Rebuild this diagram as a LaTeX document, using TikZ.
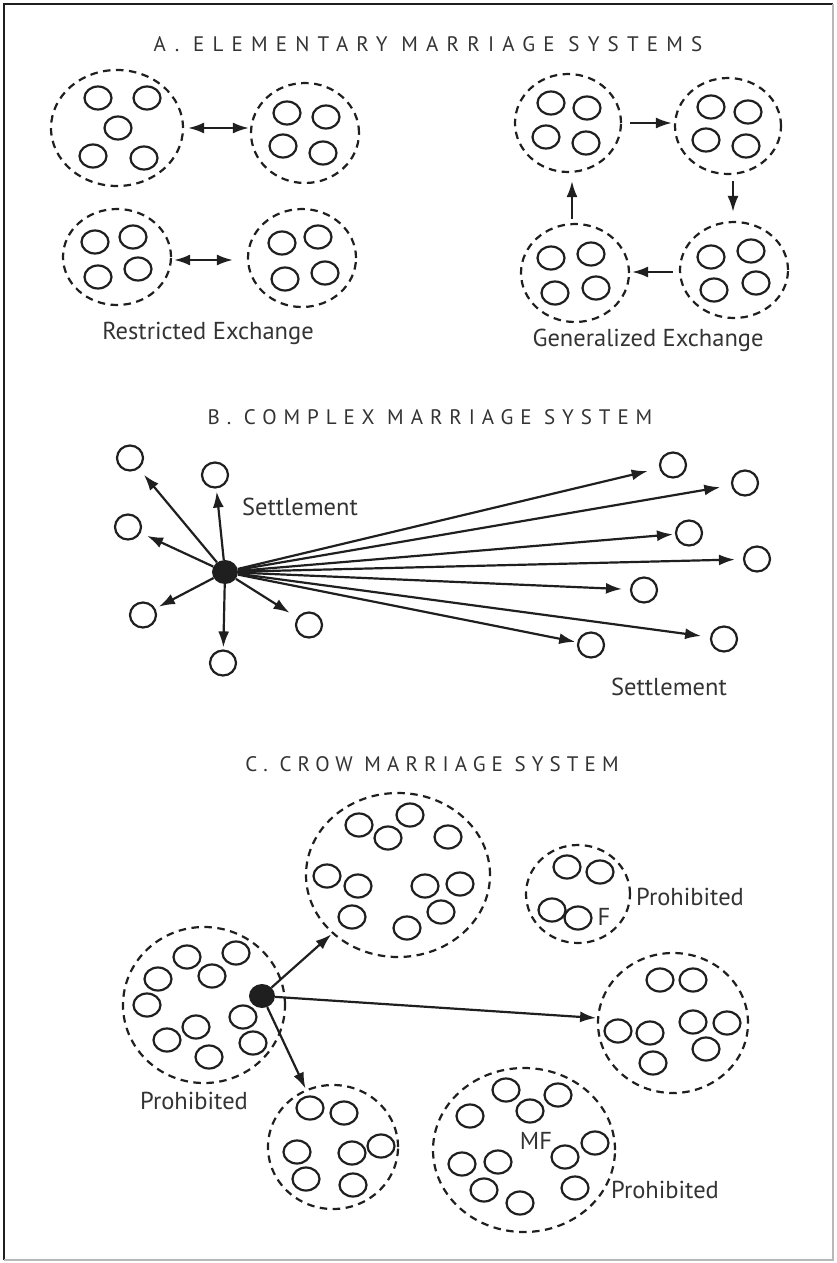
\documentclass[tikz,border=0pt]{standalone}
\usepackage{fontspec}
\setmainfont{PT Sans}
\newfontfamily\capsfont{PT Sans}
\usetikzlibrary{shapes.geometric,arrows.meta,positioning}
\definecolor{ink}{gray}{0.12}
\definecolor{txt}{gray}{0.2}
\definecolor{rim}{gray}{0.72}

\begin{document}
\begin{tikzpicture}[x=1pt,y=-1pt,
	grp/.style={ellipse,draw=ink,line width=2.2pt,dash pattern=on 7.5pt off 5.5pt,inner sep=0pt},
	fam/.style={ellipse,draw=ink,line width=2.2pt,minimum width=27pt,minimum height=23pt,inner sep=0pt},
	stl/.style={ellipse,draw=ink,line width=2.2pt,minimum width=26pt,minimum height=25pt,inner sep=0pt},
	hub/.style={ellipse,fill=ink,minimum width=26pt,minimum height=24pt,inner sep=0pt},
	arr/.style={-{Latex[length=16pt,width=11pt]},draw=ink,line width=2.2pt},
	dbl/.style={{Latex[length=16pt,width=11pt]}-{Latex[length=16pt,width=11pt]},draw=ink,line width=2.2pt},
	head/.style={text=txt,inner sep=0pt},
	lbl/.style={font=\fontsize{24.5}{24.5}\selectfont,text=txt,inner sep=0pt}]
	
	\useasboundingbox (0,0) rectangle (836,1263);
	% Rahmen
	\draw[ink,line width=1.5pt] (4,1260) -- (4,4) -- (833,4);
	\draw[rim,line width=1.5pt] (833,4) -- (833,1260) -- (4,1260);
	
	% A: restricted exchange
	\node[head,font=\capsfont\addfontfeature{LetterSpace=39}\fontsize{21}{21}\selectfont] (ta) at (428,44) {A. ELEMENTARY MARRIAGE SYSTEMS};
	\node[grp,minimum width=132pt,minimum height=116pt] (ra) at (117,128) {};
	\node[grp,minimum width=108pt,minimum height=100pt] (rb) at (305,133) {};
	\node[grp,minimum width=108pt,minimum height=96pt] (rc) at (117,257) {};
	\node[grp,minimum width=108pt,minimum height=98pt] (rd) at (302,258) {};
	\foreach \x/\y [count=\i] in {98/98,147/98,118/128,93/156,144/158,287/113,326/117,283/146,323/153,
		95/242,133/237,98/277,138/269,282/243,318/237,285/279,325/273}
		\node[fam] (rf\i) at (\x,\y) {};
	\draw[dbl,shorten <=4pt,shorten >=1pt] (ra.east) -- (ra.east -| rb.west);
	\draw[dbl,shorten <=2pt,shorten >=14pt] ([yshift=-3pt]rc.east) -- ([yshift=-3pt]rc.east -| rd.west);
	\node[lbl] (rlab) at (208,333) {Restricted Exchange};
	
	% A: generalized exchange
	\node[grp,minimum width=106pt,minimum height=98pt] (ga) at (568,123) {};
	\node[grp,minimum width=106pt,minimum height=96pt] (gb) at (728,126) {};
	\node[grp,minimum width=108pt,minimum height=96pt] (gc) at (734,270) {};
	\node[grp,minimum width=108pt,minimum height=98pt] (gd) at (575,273) {};
	\foreach \x/\y [count=\i] in {551/103,587/108,546/137,586/143,711/107,748/112,706/140,746/146,
		711/257,751/251,714/290,756/283,551/258,591/254,555/293,596/288}
		\node[fam] (gf\i) at (\x,\y) {};
	\draw[arr,shorten <=8pt,shorten >=2pt] (ga.east) -- (ga.east -| gb.west);
	\draw[arr,shorten <=6pt,shorten >=9pt] ([xshift=5pt]gb.south) -- ([xshift=5pt]gb.south |- gc.north);
	\draw[arr,shorten <=6pt,shorten >=2pt] ([yshift=-2pt]gc.west) -- ([yshift=-2pt]gc.west -| gd.east);
	\draw[arr,shorten <=4pt,shorten >=8pt] ([xshift=-3pt]gd.north) -- ([xshift=-3pt]gd.north |- ga.south);
	\node[lbl] (glab) at (648,340) {Generalized Exchange};
	
	% B: complex system
	\node[head,font=\capsfont\addfontfeature{LetterSpace=33}\fontsize{21}{21}\selectfont] (tb) at (430,417) {B. COMPLEX MARRIAGE SYSTEM};
	\node[hub] (bh) at (225,572) {};
	\foreach \x/\y/\s [count=\i] in {130/458/8,215/475/3,128/527/7,143/615/4,223/663/2,309/625/9,
		673/465/12,745/483/11,689/533/2,757/559/8,644/590/8,724/639/9,591/645/2}
	{
		\node[stl] (s\i) at (\x,\y) {};
		\draw[arr,shorten >=\s pt] (bh) -- (s\i);
	}
	\node[lbl] (sla) at (300,507) {Settlement};
	\node[lbl] (slb) at (669,687) {Settlement};
	
	% C: Crow system
	\node[head,font=\capsfont\addfontfeature{LetterSpace=29}\fontsize{21}{21}\selectfont] (tc) at (432,764) {C. CROW MARRIAGE SYSTEM};
	\node[grp,minimum width=162pt,minimum height=156pt] (ca) at (204,1005) {};
	\node[grp,minimum width=184pt,minimum height=164pt] (cb) at (398,875) {};
	\node[grp,minimum width=104pt,minimum height=98pt] (cf) at (578,894) {};
	\node[grp,minimum width=150pt,minimum height=140pt] (cc) at (673,1023) {};
	\node[grp,minimum width=130pt,minimum height=124pt] (cd) at (333,1147) {};
	\node[grp,minimum width=182pt,minimum height=164pt] (ce) at (524,1150) {};
	\foreach \x/\y [count=\i] in {187/957,236/953,158/979,212/976,147/1005,243/1017,196/1027,167/1040,253/1043,209/1057,
		359/825,410/815,388/838,448/837,327/876,358/886,425/886,460/884,352/917,441/912,407/928,
		567/867,600/872,552/910,578/918,
		660/980,693/980,693/1022,727/1023,618/1031,650/1033,706/1049,653/1063,
		310/1108,344/1113,297/1152,352/1153,381/1146,306/1179,353/1185,
		506/1090,558/1095,530/1111,470/1116,595/1143,565/1157,462/1164,498/1162,484/1190,575/1188,520/1203}
		\node[fam] (cf\i) at (\x,\y) {};
	\node[hub] (ch) at (262,996) {};
	\draw[arr,shorten >=1pt] (ch) -- (cb);
	\draw[arr,shorten >=1pt] (ch) -- (cc);
	\draw[arr,shorten >=1pt] (ch) -- (cd);
	\node[lbl] (fl) at (604,917) {F};
	\node[lbl] (mfl) at (536,1141) {MF};
	\node[lbl] (pa) at (194,1101) {Prohibited};
	\node[lbl] (pb) at (690,897) {Prohibited};
	\node[lbl] (pc) at (665,1190) {Prohibited};
\end{tikzpicture}
\end{document}
